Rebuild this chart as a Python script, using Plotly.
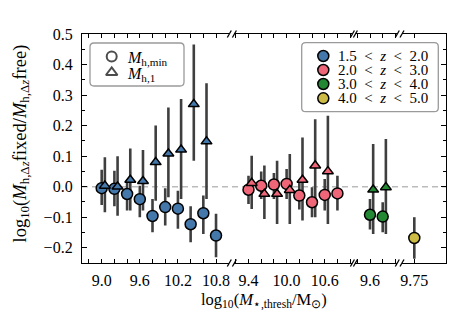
import plotly.graph_objects as go

# ---------------- data ----------------
# 1.5 < z < 2.0  (segment 1)
thr_blue = [9.0, 9.2, 9.4, 9.6, 9.8, 10.0, 10.2, 10.4, 10.6, 10.8]
blue_min = [-0.005, -0.007, -0.024, -0.041, -0.096, -0.067, -0.072, -0.123, -0.087, -0.160]
blue_min_hi = [0.055, 0.052, 0.020, 0.003, -0.040, -0.005, -0.013, -0.064, -0.029, -0.089]
blue_min_lo = [-0.060, -0.064, -0.078, -0.100, -0.149, -0.127, -0.138, -0.182, -0.155, -0.231]
thr_blue_1 = [9.0, 9.2, 9.4, 9.6, 9.8, 10.0, 10.2, 10.4, 10.6]
blue_1 = [0.003, 0.000, 0.022, 0.018, 0.080, 0.108, 0.121, 0.270, 0.148]
blue_1_hi = [0.096, 0.100, 0.125, 0.120, 0.200, 0.259, 0.287, 0.466, 0.339]
blue_1_lo = [-0.084, -0.095, -0.078, -0.078, -0.046, -0.035, -0.040, 0.085, -0.040]

# 2.0 < z < 3.0  (segment 2)
thr_pink = [9.4, 9.6, 9.8, 10.0, 10.2, 10.4, 10.6, 10.8]
pink_min = [-0.010, 0.003, 0.007, 0.009, -0.029, -0.051, -0.027, -0.022]
pink_min_hi = [0.036, 0.050, 0.045, 0.058, 0.014, -0.002, 0.025, 0.036]
pink_min_lo = [-0.057, -0.040, -0.040, -0.040, -0.075, -0.100, -0.078, -0.078]
thr_pink_1 = [9.4, 9.6, 9.8, 10.0, 10.2, 10.4, 10.6]
pink_1 = [0.012, -0.024, -0.024, -0.011, 0.022, 0.069, 0.050]
pink_1_hi = [0.101, 0.069, 0.085, 0.107, 0.161, 0.221, 0.232]
pink_1_lo = [-0.073, -0.106, -0.122, -0.122, -0.111, -0.100, -0.122]

# 3.0 < z < 4.0  (segment 3)
thr_green = [9.6, 9.8]
green_min = [-0.092, -0.098]
green_min_hi = [-0.040, -0.051]
green_min_lo = [-0.140, -0.149]
green_1 = [-0.010, -0.002]
green_1_hi = [0.140, 0.156]
green_1_lo = [-0.155, -0.155]

# 4.0 < z < 5.0  (segment 4)
thr_yellow = [9.75]
yellow_min = [-0.168]
yellow_min_hi = [-0.100]
yellow_min_lo = [-0.236]

# tick labels per segment
ticks_seg1 = [9.0, 9.6, 10.2, 10.8]
ticks_seg2 = [9.4, 10.0, 10.6]
ticks_seg3 = [9.6]
ticks_seg4 = [9.75]
yticks = [-0.2, -0.1, 0.0, 0.1, 0.2, 0.3, 0.4, 0.5]

labels_halo = ["<i>M</i><sub>h,min</sub>", "<i>M</i><sub>h,1</sub>"]
labels_z = ["1.5 &lt; <i>z</i> &lt; 2.0", "2.0 &lt; <i>z</i> &lt; 3.0",
            "3.0 &lt; <i>z</i> &lt; 4.0", "4.0 &lt; <i>z</i> &lt; 5.0"]

# ---------------- style / layout ----------------
FONT = "Liberation Serif"
COLORS = ["#4477AA", "#EE6677", "#228833", "#CCBB44"]
ERRC = "#3f3f3f"
DODGE = 0.05  # horizontal offset of the triangle series
W, H = 470, 310
ML, MR, MT, MB = 82, 24, 34, 47

ranges = [[8.69, 11.009], [9.178, 11.036], [9.37, 10.03], [9.556, 10.249]]
domains = [[0.0, 0.4047], [0.4187, 0.7429], [0.7511, 0.8662], [0.8791, 1.0]]

# legend boxes in pixel coordinates of the plot area overlay
LEG1 = dict(x0=90, x1=184, y0=43, y1=86, kx=111.7, tx=125, rows=[56.5, 72.5])
LEG2 = dict(x0=301.7, x1=438.3, y0=42.7, y1=111.7, kx=323.3, tx=336, rows=[56, 70, 84, 98.3])

fig = go.Figure()
AX = [("x", "y"), ("x2", "y2"), ("x3", "y3"), ("x4", "y4")]


def err_trace(x, y, hi, lo, ax, dodge=0.0):
    xs = [v + dodge for v in x]
    fig.add_trace(go.Scatter(
        x=xs, y=y, mode="markers", xaxis=ax[0], yaxis=ax[1],
        marker=dict(size=1, color="rgba(0,0,0,0)"),
        error_y=dict(type="data", symmetric=False,
                     array=[h - v for h, v in zip(hi, y)],
                     arrayminus=[v - l for v, l in zip(y, lo)],
                     color=ERRC, thickness=2.6, width=0),
        showlegend=False, hoverinfo="skip"))


def mark_trace(x, y, ax, color, symbol, size, dodge=0.0):
    xs = [v + dodge for v in x]
    fig.add_trace(go.Scatter(
        x=xs, y=y, mode="markers", xaxis=ax[0], yaxis=ax[1],
        marker=dict(size=size, color=color, symbol=symbol,
                    line=dict(color="black", width=1.5)),
        showlegend=False))


# error bars first (under all markers)
err_trace(thr_blue, blue_min, blue_min_hi, blue_min_lo, AX[0])
err_trace(thr_blue_1, blue_1, blue_1_hi, blue_1_lo, AX[0], DODGE)
err_trace(thr_pink, pink_min, pink_min_hi, pink_min_lo, AX[1])
err_trace(thr_pink_1, pink_1, pink_1_hi, pink_1_lo, AX[1], DODGE)
err_trace(thr_green, green_min, green_min_hi, green_min_lo, AX[2])
err_trace(thr_green, green_1, green_1_hi, green_1_lo, AX[2], DODGE)
err_trace(thr_yellow, yellow_min, yellow_min_hi, yellow_min_lo, AX[3])

# markers
mark_trace(thr_blue, blue_min, AX[0], COLORS[0], "circle", 11)
mark_trace(thr_pink, pink_min, AX[1], COLORS[1], "circle", 11)
mark_trace(thr_green, green_min, AX[2], COLORS[2], "circle", 11)
mark_trace(thr_yellow, yellow_min, AX[3], COLORS[3], "circle", 11)
mark_trace(thr_blue_1, blue_1, AX[0], COLORS[0], "triangle-up", 9.5, DODGE)
mark_trace(thr_pink_1, pink_1, AX[1], COLORS[1], "triangle-up", 9.5, DODGE)
mark_trace(thr_green, green_1, AX[2], COLORS[2], "triangle-up", 9.5, DODGE)

# ---------------- legends (drawn on a pixel-unit overlay) ----------------
def rounded_box(b, r=4):
    x0, x1, y0, y1 = b["x0"], b["x1"], b["y0"], b["y1"]
    return (f"M{x0+r},{y0} L{x1-r},{y0} Q{x1},{y0} {x1},{y0+r} "
            f"L{x1},{y1-r} Q{x1},{y1} {x1-r},{y1} L{x0+r},{y1} "
            f"Q{x0},{y1} {x0},{y1-r} L{x0},{y0+r} Q{x0},{y0} {x0+r},{y0} Z")


for b in (LEG1, LEG2):
    fig.add_shape(type="path", xref="x5", yref="y5", path=rounded_box(b),
                  fillcolor="white", line=dict(color="#9a9a9a", width=1.3),
                  layer="below")

fig.add_trace(go.Scatter(
    x=[LEG1["kx"]] * 2, y=LEG1["rows"], mode="markers", xaxis="x5", yaxis="y5",
    marker=dict(size=[10, 10], symbol=["circle-open", "triangle-up-open"],
                color="black", line=dict(width=2)),
    showlegend=False, hoverinfo="skip"))
fig.add_trace(go.Scatter(
    x=[LEG2["kx"]] * 4, y=LEG2["rows"], mode="markers", xaxis="x5", yaxis="y5",
    marker=dict(size=11, color=COLORS, symbol="circle",
                line=dict(color="black", width=1.5)),
    showlegend=False, hoverinfo="skip"))

for lab, ry in zip(labels_halo, LEG1["rows"]):
    fig.add_annotation(xref="x5", yref="y5", x=LEG1["tx"], y=ry, xanchor="left",
                       yanchor="middle", yshift=-2, showarrow=False, text=lab,
                       font=dict(family=FONT, size=16, color="black"))
for lab, ry in zip(labels_z, LEG2["rows"]):
    fig.add_annotation(xref="x5", yref="y5", x=LEG2["tx"], y=ry, xanchor="left",
                       yanchor="middle", showarrow=False,
                       text=lab.replace(" ", "\u2002"),
                       font=dict(family=FONT, size=15, color="black"))

# ---------------- axes ----------------
tickfont = dict(family=FONT, size=16, color="black")
xtv = [ticks_seg1, ticks_seg2, ticks_seg3, ticks_seg4]
minor0 = [9.0, 9.4, 9.6, None]
layout = dict(
    width=W, height=H, margin=dict(l=ML, r=MR, t=MT, b=MB),
    paper_bgcolor="white", plot_bgcolor="rgba(0,0,0,0)",
    font=dict(family=FONT, size=16, color="black"),
    showlegend=False,
)
for i in range(4):
    key = "xaxis" if i == 0 else f"xaxis{i+1}"
    ax = dict(domain=domains[i], range=ranges[i], anchor=AX[i][1],
              showgrid=False, zeroline=False, showline=True, linecolor="black",
              linewidth=1.3, mirror="ticks", ticks="inside", ticklen=4,
              tickwidth=1, tickcolor="black", tickvals=xtv[i],
              ticktext=[f"{v:.1f}" if len(f"{v:g}") < 3 else f"{v:g}" for v in xtv[i]],
              tickfont=tickfont, ticklabelstandoff=3, fixedrange=True)
    if minor0[i] is not None:
        ax["minor"] = dict(dtick=0.2, tick0=minor0[i], ticks="inside", ticklen=4,
                           tickwidth=1, tickcolor="black", showgrid=False)
    layout[key] = ax

yrange = [-0.25, 0.5]
yminor = dict(dtick=0.05, tick0=0, ticks="inside", ticklen=3,
              tickwidth=1, tickcolor="black", showgrid=False)
layout["yaxis"] = dict(range=yrange, anchor="x", showgrid=False, zeroline=False,
                       showline=True, linecolor="black", linewidth=1.3,
                       ticks="inside", ticklen=5, tickwidth=1, tickcolor="black",
                       tickvals=yticks, tickformat=".1f", tickfont=tickfont,
                       ticklabelstandoff=5, minor=yminor, fixedrange=True)
layout["yaxis2"] = dict(matches="y", anchor="x2", visible=False)
layout["yaxis3"] = dict(matches="y", anchor="x3", visible=False)
layout["yaxis4"] = dict(matches="y", anchor="x4", side="right", showgrid=False,
                        zeroline=False, showline=True, linecolor="black", linewidth=1.3,
                        ticks="inside", ticklen=5, tickwidth=1, tickcolor="black",
                        tickvals=yticks, showticklabels=False, minor=yminor)
layout["xaxis5"] = dict(domain=[0, 1], range=[ML, W - MR], anchor="y5",
                        visible=False, fixedrange=True)
layout["yaxis5"] = dict(domain=[0, 1], range=[H - MB, MT], anchor="x5",
                        visible=False, fixedrange=True)

fig.update_layout(**layout)

# zero reference line
fig.add_shape(type="line", xref="paper", yref="y", x0=0, x1=1, y0=0, y1=0,
              line=dict(color="#bbbbbb", width=1.5, dash="6px,4px"), layer="below")

# broken-axis slashes
for i in range(4):
    ends = []
    if i > 0:
        ends.append(domains[i][0])
    if i < 3:
        ends.append(domains[i][1])
    for xe in ends:
        for ye in (0, 1):
            fig.add_shape(type="line", xref="paper", yref="paper",
                          xsizemode="pixel", ysizemode="pixel",
                          xanchor=xe, yanchor=ye, x0=-2, x1=2, y0=-3.5, y1=3.5,
                          line=dict(color="black", width=1.3))

# axis titles
fig.add_annotation(xref="paper", yref="paper", x=0.5, y=0, yanchor="top",
                   yshift=-25, showarrow=False,
                   text="log<sub>10</sub>(<i>M</i><sub>⋆,thresh</sub>/M<sub>⊙</sub>)",
                   font=dict(family=FONT, size=16.5))
fig.add_annotation(xref="paper", yref="paper", x=0, y=0.5, xanchor="center",
                   xshift=-61, yshift=5, showarrow=False, textangle=-90,
                   text="log<sub>10</sub>(<i>M</i><sub>h,Δ<i>z</i></sub>fixed/<i>M</i><sub>h,Δ<i>z</i></sub>free)",
                   font=dict(family=FONT, size=18.5))

fig.write_html("out.html", config={"displayModeBar": False},
               post_script="document.body.style.margin='0px';")
